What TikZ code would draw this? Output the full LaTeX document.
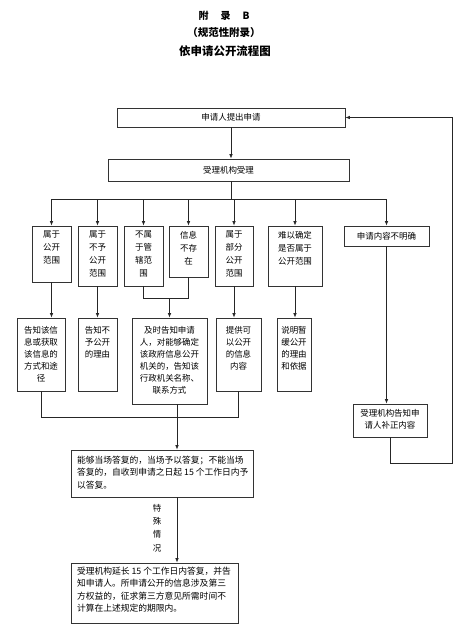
\documentclass[tikz,border=0pt]{standalone}
\usepackage{fontspec}
\setmainfont{Noto Sans CJK SC}
\usetikzlibrary{arrows.meta}
\newcommand\tbox[4]{\parbox[c][#2bp][t]{#1bp}{\vspace*{#3bp}\centering #4}}
\newcommand\lbox[4]{\parbox[c][#2bp][t]{#1bp}{\vspace*{#3bp}\raggedright\leftskip=6bp\parindent=0pt #4}}
\tikzset{
  bx/.style={draw=black!80, line width=0.8bp, inner sep=0pt, font=\fontsize{8.5}{13}\selectfont},
  bxr/.style={bx, font=\fontsize{8.5}{12.2}\selectfont},
  bxw/.style={bx, font=\fontsize{8.8}{12.5}\selectfont},
  ln/.style={draw=black!85, line width=0.8bp},
  arr/.style={-{Latex[length=4.5bp,width=3.6bp]}},
  ttl/.style={font=\bfseries\fontsize{#1}{12}\selectfont, inner sep=0pt}
}
\begin{document}
\begin{tikzpicture}[x=1bp,y=-1bp]
\fill[white] (0,0) rectangle (463,632);
\useasboundingbox (0,0) rectangle (463,632);
% titles
\node[ttl=10] (t1) at (224,16) {附\hspace{12bp}录\hspace{12bp}B};
\node[ttl=10.5] (t2) at (224,33) {（规范性附录）};
\node[ttl=11.5] (t3) at (225,51) {依申请公开流程图};
% top boxes
\node[bx, minimum width=228bp, minimum height=19bp] (b1) at (231,117.5) {申请人提出申请};
\node[bx, minimum width=241bp, minimum height=22bp] (b2) at (228.5,170) {受理机构受理};
% row 2
\node[bx] (a1) at (51.5,254) {\tbox{39}{56}{5}{属于\\公开\\范围}};
\node[bx] (a2) at (97.5,256) {\tbox{39}{60}{5}{属于\\不予\\公开\\范围}};
\node[bx] (a3) at (143.5,256) {\tbox{39}{60}{5}{不属\\于管\\辖范\\围}};
\node[bx] (a4) at (188.5,251.5) {\tbox{39}{51}{5}{信息\\不存\\在}};
\node[bx] (a5) at (234,256) {\tbox{38}{60}{5}{属于\\部分\\公开\\范围}};
\node[bx] (a6) at (295,256) {\tbox{54}{60}{5}{难以确定\\是否属于\\公开范围}};
\node[bx, minimum width=85bp, minimum height=20bp] (a7) at (386.5,236) {申请内容不明确};
% row 3
\node[bxr] (c1) at (41,354.5) {\tbox{48}{73}{8}{告知该信\\息或获取\\该信息的\\方式和途\\径}};
\node[bxr] (c2) at (97.5,354.5) {\tbox{39}{73}{8}{告知不\\予公开\\的理由}};
\node[bxr] (c3) at (169.5,361) {\tbox{75}{86}{8}{及时告知申请\\人，对能够确定\\该政府信息公开\\机关的，告知该\\行政机关名称、\\联系方式}};
\node[bxr] (c4) at (238.5,354.5) {\tbox{45}{73}{8}{提供可\\以公开\\的信息\\内容}};
\node[bxr] (c5) at (294,354.5) {\tbox{34}{73}{8}{说明暂\\缓公开\\的理由\\和依据}};
\node[bxr] (f) at (390,420.5) {\tbox{74}{33}{5}{受理机构告知申\\请人补正内容}};
% lower boxes
\node[bxw] (G) at (162,473.5) {\lbox{182}{47}{6}{能够当场答复的，当场予以答复；不能当场\\答复的，自收到申请之日起 15 个工作日内予\\以答复。}};
\node[bxw] (H) at (154.5,593) {\lbox{167}{60}{4}{受理机构延长 15 个工作日内答复，并告\\知申请人。所申请公开的信息涉及第三\\方权益的，征求第三方意见所需时间不\\计算在上述规定的期限内。}};
\node[font=\fontsize{8.5}{13.5}\selectfont, align=center, inner sep=0pt] (sp) at (157,528) {特\\殊\\情\\况};
% connectors
\coordinate (bus) at (231,199);
\draw[ln,arr] (b1.south) -- (b1.south |- b2.north);
\draw[ln] (b2.south -| bus) -- (bus);
\draw[ln] (a1.north |- bus) -- (a7.north |- bus);
\foreach \n in {a1,a2,a3,a4,a5,a6,a7} \draw[ln,arr] (\n.north |- bus) -- (\n.north);
\draw[ln,arr] (a1.south) -- (a1.south |- c1.north);
\draw[ln,arr] (a2.south) -- (a2.south |- c2.north);
\draw[ln,arr] (a5.south) -- (a5.south |- c4.north);
\draw[ln,arr] (a6.south) -- (a6.south |- c5.north);
\draw[ln,arr] (a7.south) -- (a7.south |- f.north);
\coordinate (m34) at (169.5,298);
\draw[ln] (a3.south) -- (a3.south |- m34) -- (a4.south |- m34) -- (a4.south);
\draw[ln,arr] (m34) -- (c3.north);
\coordinate (j) at (177,417);
\draw[ln] (c1.south) -- (c1.south |- j) -- (c4.south |- j) -- (c4.south);
\draw[ln] (c3.south -| j) -- (j);
\draw[ln,arr] (j) -- (G.north -| j);
\draw[ln,arr] (G.south -| j) -- (H.north -| j);
\coordinate (lp) at (452,463);
\draw[ln,arr] (f.south) |- (lp) |- (b1.east);
\end{tikzpicture}
\end{document}
